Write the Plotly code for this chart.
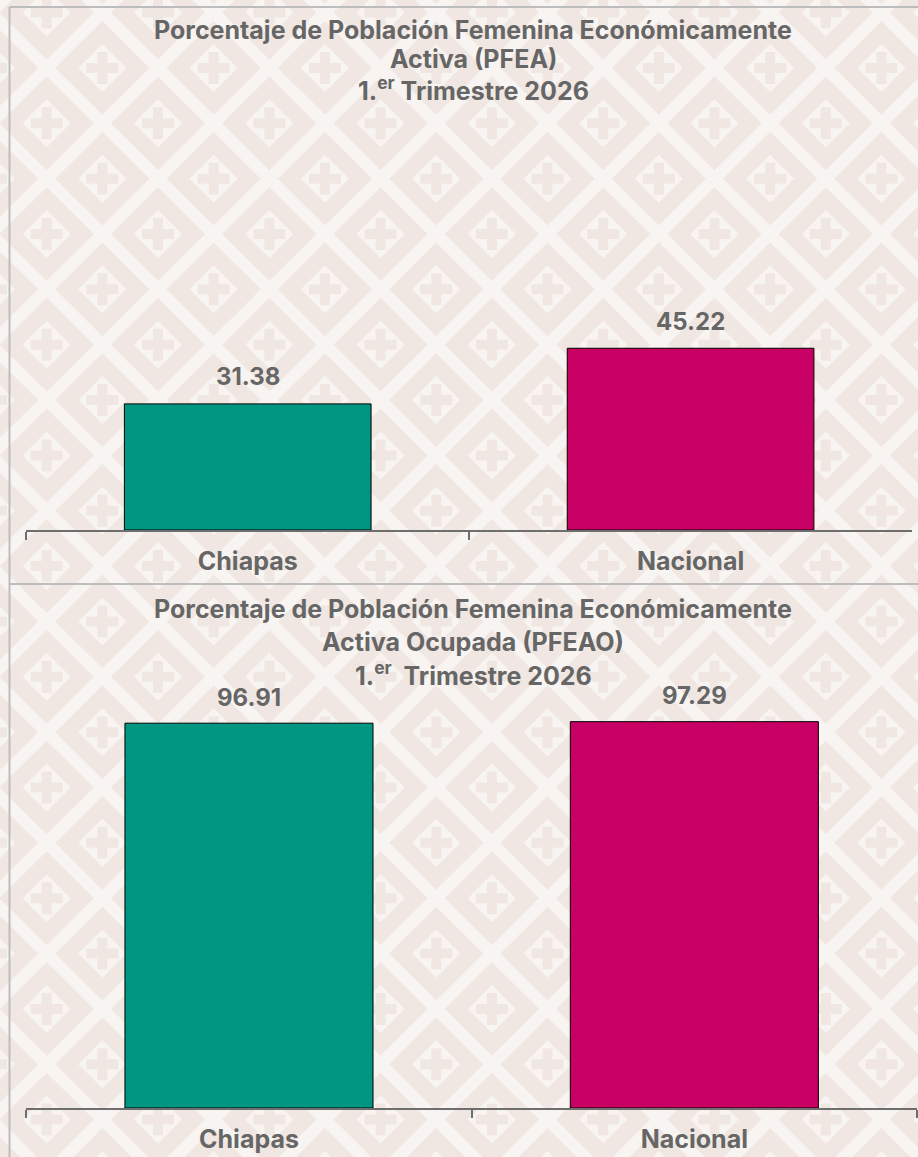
import plotly.graph_objects as go

# ---- data ----
categories = ["Chiapas", "Nacional"]
pfea_values = [31.38, 45.22]
pfeao_values = [96.91, 97.29]
value_labels_pfea = ["31.38", "45.22"]
value_labels_pfeao = ["96.91", "97.29"]
bar_colors = ["#009682", "#C90063"]
title_pfea = ["Porcentaje de Población Femenina Económicamente",
              "Activa (PFEA)",
              "1.<sup>er</sup> Trimestre 2026"]
title_pfeao = ["Porcentaje de Población Femenina Económicamente",
               "Activa Ocupada (PFEAO)",
               "1.<sup>er</sup>  Trimestre 2026"]

W, H = 918, 1157
FONT = "Inter"
TXT = "#666666"
LIGHT = "#F8F4F1"
DARK = "#F1E7E2"
WT = 650


def px(x):
    return x / W


def py(y):
    return 1 - y / H


# ---- decorative background pattern (diamonds with crosses) ----
x0, y0, Px, Py = 46.7, 123.3, 111.3, 110.7
band = 8.5
inner = 24
c_len, c_th = 16, 5
parts = []


def poly(pts):
    return "M" + "L".join(f"{px(a):.5f},{py(b):.5f}" for a, b in pts) + "Z"


centers = []
for i in range(-1, 10):
    for j in range(-2, 12):
        centers.append((x0 + i * Px, y0 + j * Py))
        centers.append((x0 + (i + 0.5) * Px, y0 + (j + 0.5) * Py))
for cx, cy in centers:
    hx, hy = Px / 2 - band, Py / 2 - band
    parts.append(poly([(cx - hx, cy), (cx, cy - hy), (cx + hx, cy), (cx, cy + hy)]))
    parts.append(poly([(cx - inner, cy), (cx, cy - inner), (cx + inner, cy), (cx, cy + inner)]))
    c, t = c_len, c_th
    parts.append(poly([(cx - t, cy - c), (cx + t, cy - c), (cx + t, cy - t), (cx + c, cy - t),
                       (cx + c, cy + t), (cx + t, cy + t), (cx + t, cy + c), (cx - t, cy + c),
                       (cx - t, cy + t), (cx - c, cy + t), (cx - c, cy - t), (cx - t, cy - t)]))

shapes = [dict(type="path", xref="paper", yref="paper", path="".join(parts),
               fillcolor=DARK, line=dict(width=0), layer="below", fillrule="evenodd")]

# panel borders
border = dict(color="#BDBDBD", width=2)
shapes += [
    dict(type="line", xref="paper", yref="paper", x0=px(9.5), x1=1, y0=py(7), y1=py(7), line=border, layer="above"),
    dict(type="line", xref="paper", yref="paper", x0=px(9.5), x1=px(9.5), y0=py(7), y1=0, line=border, layer="above"),
    dict(type="line", xref="paper", yref="paper", x0=px(9.5), x1=1, y0=py(584), y1=py(584), line=border, layer="above"),
]

fig = go.Figure()
fig.add_trace(go.Bar(x=categories, y=pfea_values, marker=dict(color=bar_colors, line=dict(color="#000000", width=1)),
                     xaxis="x", yaxis="y", hoverinfo="x+y"))
fig.add_trace(go.Bar(x=categories, y=pfeao_values, marker=dict(color=bar_colors, line=dict(color="#000000", width=1)),
                     xaxis="x2", yaxis="y2", hoverinfo="x+y"))

annotations = []
for cat, v, lab in zip(categories, pfea_values, value_labels_pfea):
    annotations.append(dict(x=cat, y=v, xref="x", yref="y", text=lab, showarrow=False,
                            yanchor="middle", yshift=27,
                            font=dict(family=FONT, size=24, color=TXT, weight=WT)))
for cat, v, lab in zip(categories, pfeao_values, value_labels_pfeao):
    annotations.append(dict(x=cat, y=v, xref="x2", yref="y2", text=lab, showarrow=False,
                            yanchor="middle", yshift=26,
                            font=dict(family=FONT, size=24, color=TXT, weight=WT)))

for line, yc in zip(title_pfea, [29.5, 59, 88.5]):
    annotations.append(dict(x=px(473), y=py(yc), xref="paper", yref="paper", text=line,
                            showarrow=False, yanchor="middle", xanchor="center",
                            font=dict(family=FONT, size=25, color=TXT, weight=WT)))
for line, yc in zip(title_pfeao, [609, 642, 674]):
    annotations.append(dict(x=px(473), y=py(yc), xref="paper", yref="paper", text=line,
                            showarrow=False, yanchor="middle", xanchor="center",
                            font=dict(family=FONT, size=25, color=TXT, weight=WT)))

xcommon = dict(type="category", showline=True, linecolor="#6E6E6E", linewidth=2, ticks="outside",
               tickson="boundaries", ticklen=8, tickwidth=2, tickcolor="#6E6E6E", showgrid=False,
               zeroline=False, ticklabelstandoff=8,
               tickfont=dict(family=FONT, size=25, color=TXT, weight=WT))
ycommon = dict(visible=False, showgrid=False, zeroline=False)

fig.update_layout(
    width=W, height=H,
    margin=dict(l=0, r=0, t=0, b=0),
    paper_bgcolor=LIGHT, plot_bgcolor="rgba(0,0,0,0)",
    showlegend=False, bargap=0.443,
    xaxis=dict(**xcommon, domain=[px(26.3), px(912)], anchor="y"),
    yaxis=dict(**ycommon, domain=[py(530), py(108)], range=[0, 105], anchor="x"),
    xaxis2=dict(**xcommon, domain=[px(26.3), px(917)], anchor="y2"),
    yaxis2=dict(**ycommon, domain=[py(1108), py(699)], range=[0, 103], anchor="x2"),
    shapes=shapes,
    annotations=annotations,
)

fig.write_html("out.html", config={"displayModeBar": False},
               post_script="document.body.style.margin='0';document.body.style.padding='0';"
                           "document.body.style.overflow='hidden';")
